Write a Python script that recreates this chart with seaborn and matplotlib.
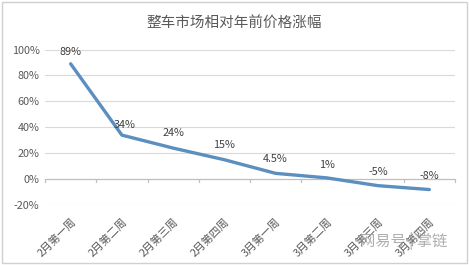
import matplotlib
matplotlib.use("Agg")
import matplotlib.pyplot as plt
import seaborn as sns
import pandas as pd
from matplotlib.patches import Rectangle

categories = ["2月第一周", "2月第二周", "2月第三周", "2月第四周", "3月第一周", "3月第二周", "3月第三周", "3月第四周"]
values = [89, 34, 24, 15, 4.5, 1, -5, -8]
labels = ["89%", "34%", "24%", "15%", "4.5%", "1%", "-5%", "-8%"]
yticks = [-20, 0, 20, 40, 60, 80, 100]

sns.set_theme(style="white")
plt.rcParams['font.family'] = ['Noto Sans CJK SC', 'DejaVu Sans']

df = pd.DataFrame({"cat": categories, "val": values})
df["x"] = range(len(categories))

fig = plt.figure(figsize=(4.69, 2.65), dpi=100)
ax = fig.add_axes([0.096, 0.226, 0.874, 0.587])
for y in yticks:
    if y != 0:
        ax.axhline(y, color="#d9d9d9", lw=0.8, zorder=0)
ax.axhline(0, color="#bfbfbf", lw=0.9, zorder=0)
sns.lineplot(data=df, x="x", y="val", ax=ax, color="#5a8fc0", lw=2.4, zorder=3)
ax.set_xlim(-0.5, len(categories) - 0.5)
ax.set_ylim(-20, 100)
ax.set_yticks(yticks)
ax.set_yticklabels([f"{v}%" for v in yticks], fontsize=7.8, color="#595959")
ax.set_xticks(range(len(categories)))
ax.set_xticklabels(categories, rotation=45, ha="right", rotation_mode="anchor", fontsize=7.8, color="#595959")
ax.tick_params(axis="both", length=0, pad=4)
ax.tick_params(axis="x", pad=8)
for b in [i - 0.5 for i in range(len(categories) + 1)]:
    ax.plot([b, b], [0, -1.8], color="#bfbfbf", lw=0.9, clip_on=False)
for s in ax.spines.values():
    s.set_visible(False)
ax.set_xlabel("")
ax.set_ylabel("")
offsets = [5, 4, 7, 7, 7, 6, 6, 6]
for i, (v, lab) in enumerate(zip(values, labels)):
    dx = 0.06 if i == 1 else 0
    ax.annotate(lab, (i + dx, v), xytext=(0, offsets[i]), textcoords="offset points",
                ha="center", va="bottom", fontsize=7.8, color="#404040")
fig.text(0.5, 0.915, "整车市场相对年前价格涨幅", ha="center", va="center", fontsize=10.5, color="#595959")
fig.text(0.86, 0.09, "网易号 | 掌链", ha="center", va="center", fontsize=11, color="#9a9a9a", alpha=0.8)
fig.patches.append(Rectangle((0.004, 0.006), 0.992, 0.988, transform=fig.transFigure,
                             fill=False, edgecolor="#d0d0d0", lw=1))
fig.savefig("out.png", dpi=100)
